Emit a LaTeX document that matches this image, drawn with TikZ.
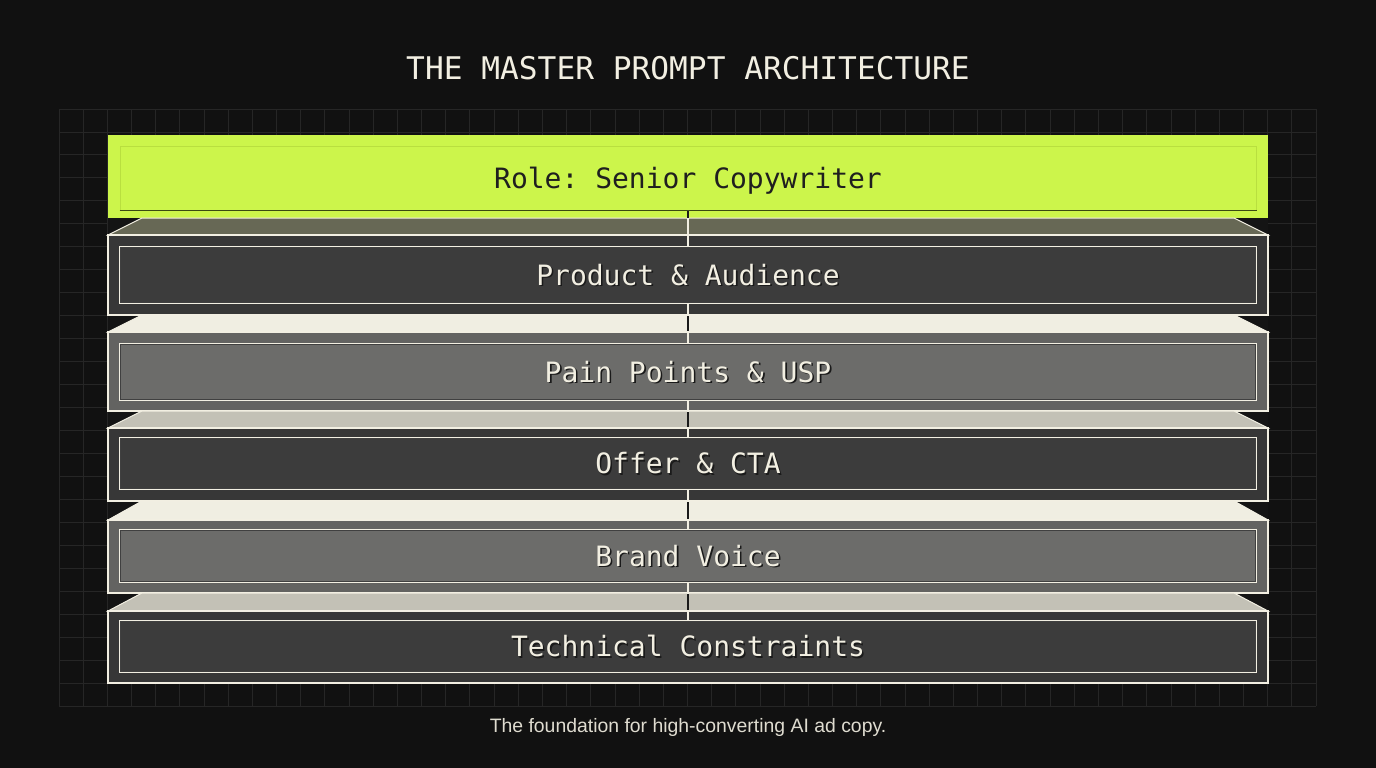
\documentclass[tikz,border=0pt]{standalone}
\usepackage{fontspec}
\usetikzlibrary{calc}
\newfontfamily\monof{DejaVu Sans Mono}
\newfontfamily\capf{Liberation Sans}
\frenchspacing
\definecolor{bg}{HTML}{111111}
\definecolor{gridc}{HTML}{262626}
\definecolor{cream}{HTML}{F2EFE2}
\definecolor{lime}{HTML}{CCF54B}
\definecolor{limeedge}{HTML}{B9DF3F}
\definecolor{limedark}{HTML}{3A4A12}
\definecolor{olive}{HTML}{676855}
\definecolor{creamtop}{HTML}{F0EEE2}
\definecolor{greytop}{HTML}{C3C1B6}
\definecolor{darkfront}{HTML}{373737}
\definecolor{darkinner}{HTML}{3C3C3C}
\definecolor{greyfront}{HTML}{636361}
\definecolor{greyinner}{HTML}{6C6C6A}
\definecolor{shadowc}{HTML}{1A1A1A}
\newcommand{\shtext}[1]{\leavevmode\rlap{\kern1.6pt\raisebox{-1.6pt}{\textcolor{shadowc}{#1}}}#1}
\tikzset{
  gridline/.style={draw=gridc, line width=0.9pt},
  topface/.style={fill=#1, draw=cream, line width=1pt, line join=miter},
  frontbox/.style={fill=#1, draw=cream, line width=1.6pt},
  innerbox/.style={fill=#1, draw=cream, line width=1.6pt, inner sep=0pt,
    minimum width=1136pt, text=cream,
    font=\monof\fontsize{28}{32}\selectfont, text height=20.4pt, text depth=0pt},
  darkedge/.style={draw=black!75, line width=0.8pt},
  clight/.style={draw=cream, line width=1.4pt},
  cdark/.style={draw=shadowc, line width=1.6pt},
}
\begin{document}
\begin{tikzpicture}[x=1pt,y=-1pt]
\useasboundingbox (0,0) rectangle (1376,768);
\fill[bg] (0,0) rectangle (1376,768);
% grid
\foreach \i in {0,...,52} \draw[gridline] ({59+\i*24.173},109) -- ({59+\i*24.173},706);
\foreach \j in {0,...,26} \draw[gridline] (59,{109+\j*22.962}) -- (1316,{109+\j*22.962});
% stack backdrop
\fill[black!92] (108,135) rectangle (1268,684);

% top: role
\fill[lime] (108,135) rectangle (1268,218);
\node[innerbox=lime, draw=limeedge, line width=1pt, minimum height=64pt, text=black!88] (role) at (688,178) {Role: Senior Copywriter};
\draw[limedark, line width=1.4pt] (role.south west) -- (role.south east);

% layer 1
\path[topface=olive] (142,218) -- (1234,218) -- (1268,235) -- (108,235) -- cycle;
\path[frontbox=darkfront] (108,235) rectangle (1268,315);
\node[innerbox=darkinner, minimum height=56pt] (l1) at (688,275) {\shtext{Product \& Audience}};
% layer 2
\path[topface=creamtop] (142,315) -- (1234,315) -- (1268,332) -- (108,332) -- cycle;
\path[frontbox=greyfront] (108,332) rectangle (1268,411);
\node[innerbox=greyinner, minimum height=56pt] (l2) at (688,372) {\shtext{Pain Points \& USP}};
% layer 3
\path[topface=greytop] (142,411) -- (1234,411) -- (1268,428) -- (108,428) -- cycle;
\path[frontbox=darkfront] (108,428) rectangle (1268,501);
\node[innerbox=darkinner, minimum height=51pt] (l3) at (688,463.5) {\shtext{Offer \& CTA}};
% layer 4
\path[topface=creamtop] (142,501) -- (1234,501) -- (1268,520) -- (108,520) -- cycle;
\path[frontbox=greyfront] (108,520) rectangle (1268,593);
\node[innerbox=greyinner, minimum height=52pt] (l4) at (688,556) {\shtext{Brand Voice}};
% layer 5
\path[topface=greytop] (142,593) -- (1234,593) -- (1268,611) -- (108,611) -- cycle;
\path[frontbox=darkfront] (108,611) rectangle (1268,683);
\node[innerbox=darkinner, minimum height=51pt] (l5) at (688,646.5) {\shtext{Technical Constraints}};

% inner dark edges
\foreach \n in {l1,l2,l3,l4,l5}
  \draw[darkedge] ($(\n.south west)+(1.6,-1.6)$) rectangle ($(\n.north east)+(-1.6,1.6)$);

% centre spine
\draw[clight] (role.south) -- (l1.north);
\draw[clight] (l1.south) -- (l2.north);
\draw[clight] (l2.south) -- (l3.north);
\draw[clight] (l3.south) -- (l4.north);
\draw[clight] (l4.south) -- (l5.north);
\draw[cdark] (role.south) -- (688,218);
\draw[cdark] (688,316) -- (688,331);
\draw[cdark] (688,412) -- (688,427);
\draw[cdark] (688,502) -- (688,519);
\draw[cdark] (688,594) -- (688,610);

% title and caption
\node[anchor=base, text=cream, font=\monof\fontsize{31.2}{36}\selectfont] (title) at (688,79) {THE MASTER PROMPT ARCHITECTURE};
\node[anchor=base, text=cream!92!black, font=\capf\fontsize{19.4}{23}\selectfont] (caption) at (688,732) {The foundation for high-converting AI ad copy.};
\end{tikzpicture}
\end{document}
